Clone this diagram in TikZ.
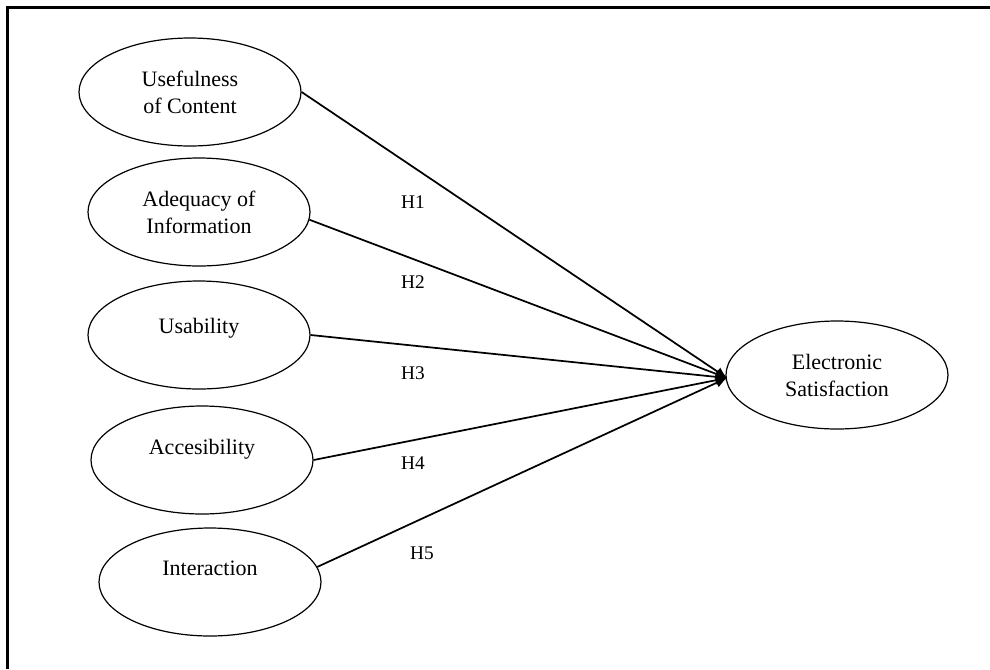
\documentclass[tikz,border=0pt]{standalone}
\usepackage{fontspec}
\setmainfont{Liberation Serif}
\usetikzlibrary{arrows.meta,shapes.geometric}
\begin{document}
\begin{tikzpicture}[x=0.75pt,y=-0.75pt,
  construct/.style={draw,ellipse,line width=0.9pt,minimum width=166.5pt,minimum height=81pt,inner sep=0pt,align=center,font=\fontsize{16.5}{20.25}\selectfont},
  hyp/.style={font=\fontsize{14.5}{17}\selectfont,inner sep=0pt},
  path/.style={line width=1.3pt,-{Latex[length=8.5pt,width=7.5pt]}},
  frame/.style={line width=1.6pt}]
\useasboundingbox (0,0) rectangle (990,669);
\draw[frame] (990,7.5) -- (7.5,7.5) -- (7.5,669);
\node[construct] (u) at (190,92) {Usefulness\\of Content};
\node[construct] (a) at (199,212) {Adequacy of\\Information};
\node[construct] (b) at (199,335) {Usability\\[-6pt]\mbox{}};
\node[construct] (c) at (202,460) {Accesibility\\\mbox{}};
\node[construct] (i) at (210,582) {Interaction\\\mbox{}};
\node[construct] (e) at (837,375) {Electronic\\Satisfaction};
\coordinate (t) at (727,378);
\draw[path] (u.east) -- (t);
\draw[path] (a.-4) -- (t);
\draw[path] (b.east) -- (t);
\draw[path] (c.east) -- (t);
\draw[path] (i.8) -- (t);
\node[hyp] (h1) at (413,202) {H1};
\node[hyp] (h2) at (413,282) {H2};
\node[hyp] (h3) at (413,373) {H3};
\node[hyp] (h4) at (413,463) {H4};
\node[hyp] (h5) at (422,553) {H5};
\end{tikzpicture}
\end{document}
